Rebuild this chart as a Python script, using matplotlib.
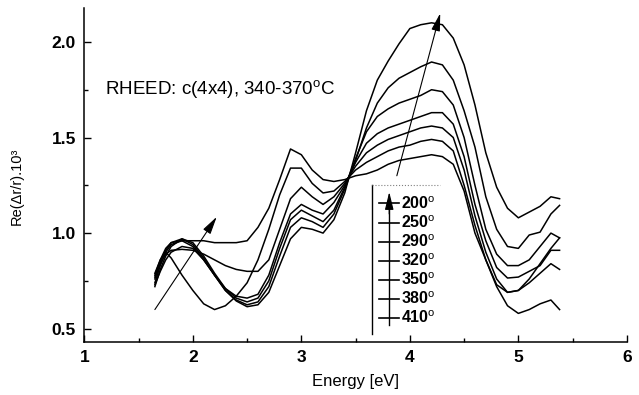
import numpy as np
import matplotlib
matplotlib.use('Agg')
import matplotlib.pyplot as plt
from matplotlib.ticker import MultipleLocator, FormatStrFormatter

plt.rcParams['font.family'] = ['Liberation Sans', 'DejaVu Sans']
plt.rcParams['mathtext.fontset'] = 'custom'
plt.rcParams['mathtext.rm'] = 'Liberation Sans'
plt.rcParams['mathtext.bf'] = 'Liberation Sans:bold'

# photon energy (eV)
energy = [1.65, 1.70, 1.75, 1.80, 1.90, 2.00, 2.10, 2.20, 2.30, 2.40,
          2.50, 2.60, 2.70, 2.80, 2.90, 3.00, 3.10, 3.20, 3.30, 3.40,
          3.50, 3.60, 3.70, 3.80, 3.90, 4.00, 4.10, 4.20, 4.30, 4.40,
          4.50, 4.60, 4.70, 4.80, 4.90, 5.00, 5.10, 5.20, 5.30, 5.38]

# Re(dr/r) x 10^3 for each temperature
re_200 = [0.73, 0.80, 0.86, 0.90, 0.93, 0.92, 0.86, 0.78, 0.70, 0.645,
          0.615, 0.625, 0.69, 0.83, 0.97, 1.03, 1.02, 1.00, 1.07, 1.21,
          1.42, 1.64, 1.80, 1.90, 1.99, 2.07, 2.09, 2.10, 2.09, 2.02,
          1.88, 1.67, 1.42, 1.24, 1.13, 1.08, 1.11, 1.14, 1.19, 1.18]
re_250 = [0.77, 0.85, 0.91, 0.95, 0.97, 0.94, 0.87, 0.78, 0.70, 0.65,
          0.625, 0.64, 0.72, 0.88, 1.03, 1.08, 1.06, 1.03, 1.10, 1.23,
          1.38, 1.55, 1.68, 1.76, 1.81, 1.84, 1.87, 1.895, 1.88, 1.80,
          1.64, 1.45, 1.19, 1.02, 0.93, 0.92, 0.99, 1.005, 1.10, 1.145]
re_290 = [0.72, 0.81, 0.88, 0.93, 0.97, 0.95, 0.88, 0.79, 0.71, 0.66,
          0.64, 0.66, 0.75, 0.92, 1.07, 1.12, 1.09, 1.06, 1.12, 1.24,
          1.39, 1.53, 1.61, 1.65, 1.68, 1.70, 1.72, 1.75, 1.74, 1.67,
          1.50, 1.25, 1.02, 0.89, 0.83, 0.83, 0.86, 0.93, 1.00, 0.975]
re_320 = [0.74, 0.83, 0.90, 0.94, 0.96, 0.93, 0.86, 0.78, 0.71, 0.67,
          0.66, 0.68, 0.78, 0.95, 1.10, 1.15, 1.12, 1.10, 1.16, 1.25,
          1.37, 1.47, 1.52, 1.55, 1.57, 1.59, 1.61, 1.63, 1.63, 1.57,
          1.40, 1.15, 0.96, 0.82, 0.765, 0.77, 0.80, 0.83, 0.91, 0.91]
re_350 = [0.76, 0.84, 0.89, 0.91, 0.915, 0.91, 0.89, 0.86, 0.83, 0.81,
          0.80, 0.80, 0.86, 1.02, 1.18, 1.24, 1.19, 1.15, 1.19, 1.26,
          1.35, 1.42, 1.46, 1.49, 1.51, 1.53, 1.55, 1.56, 1.55, 1.50,
          1.33, 1.09, 0.90, 0.76, 0.69, 0.70, 0.74, 0.79, 0.84, 0.81]
re_380 = [0.79, 0.86, 0.90, 0.87, 0.78, 0.70, 0.63, 0.60, 0.62, 0.67,
          0.74, 0.86, 1.02, 1.20, 1.34, 1.34, 1.26, 1.21, 1.22, 1.27,
          1.33, 1.37, 1.40, 1.43, 1.45, 1.46, 1.48, 1.49, 1.48, 1.43,
          1.25, 1.04, 0.86, 0.73, 0.69, 0.70, 0.76, 0.84, 0.92, 0.975]
re_410 = [0.78, 0.86, 0.92, 0.95, 0.96, 0.96, 0.96, 0.95, 0.95, 0.95,
          0.96, 1.03, 1.13, 1.28, 1.44, 1.41, 1.33, 1.28, 1.27, 1.28,
          1.30, 1.31, 1.33, 1.36, 1.38, 1.39, 1.40, 1.41, 1.40, 1.36,
          1.22, 1.00, 0.86, 0.72, 0.62, 0.58, 0.60, 0.63, 0.65, 0.60]

temps = ['200', '250', '290', '320', '350', '380', '410']
series = [re_200, re_250, re_290, re_320, re_350, re_380, re_410]

fig = plt.figure(figsize=(6.39, 3.95), dpi=100)
ax = fig.add_axes([0.132, 0.134, 0.849, 0.846])

for vals in series:
    ax.plot(energy, vals, color='black', lw=1.1)

ax.set_xlim(1, 6)
ax.set_ylim(0.43, 2.178)
ax.spines['top'].set_visible(False)
ax.spines['right'].set_visible(False)
ax.spines['left'].set_linewidth(1.1)
ax.spines['bottom'].set_linewidth(1.1)

ax.xaxis.set_major_locator(MultipleLocator(1))
ax.xaxis.set_minor_locator(MultipleLocator(0.5))
ax.yaxis.set_major_locator(MultipleLocator(0.5))
ax.yaxis.set_minor_locator(MultipleLocator(0.25))
ax.yaxis.set_major_formatter(FormatStrFormatter('%.1f'))
ax.tick_params(which='both', direction='in', width=1)
ax.tick_params(which='major', length=5, labelsize=12.5, pad=6)
ax.tick_params(which='minor', length=3)
for lab in ax.get_xticklabels() + ax.get_yticklabels():
    lab.set_fontweight('bold')

ax.set_xlabel('Energy [eV]', fontsize=12, labelpad=6)
fig.text(17 / 639, 1 - 186 / 395, 'Re(\u0394r/r).10\u00b3', rotation=90,
         ha='center', va='center', fontsize=10.5)

ax.text(1.19, 1.75, r'RHEED: c(4x4), 340-370$^{\mathrm{o}}$C', fontsize=13.5,
        va='center', ha='left')

# trend arrows
arrow_kw = dict(arrowstyle='-|>,head_length=0.9,head_width=0.22', color='black',
                lw=0.8, shrinkA=0, shrinkB=0, mutation_scale=12)
ax.annotate('', xy=(2.22, 1.085), xytext=(1.65, 0.60), arrowprops=arrow_kw)
ax.annotate('', xy=(4.28, 2.15), xytext=(3.88, 1.30), arrowprops=arrow_kw)

# temperature key
ax.plot([3.65, 3.65], [0.47, 1.25], color='black', lw=1.0)
ax.plot([3.65, 4.28], [1.25, 1.25], color='0.5', lw=0.8, ls=':')
ax.plot([3.81, 3.81], [0.52, 1.15], color='black', lw=1.0)
ax.annotate('', xy=(3.81, 1.215), xytext=(3.81, 1.10), arrowprops=arrow_kw)
for i, t in enumerate(temps):
    y = 1.155 - 0.1 * i
    ax.plot([3.72, 3.90], [y, y], color='black', lw=1.2)
    ax.text(3.92, y, t + r'$^{\mathrm{o}}$', fontsize=11.5, fontweight='bold',
            va='center', ha='left')

plt.savefig('out.png', dpi=100)
